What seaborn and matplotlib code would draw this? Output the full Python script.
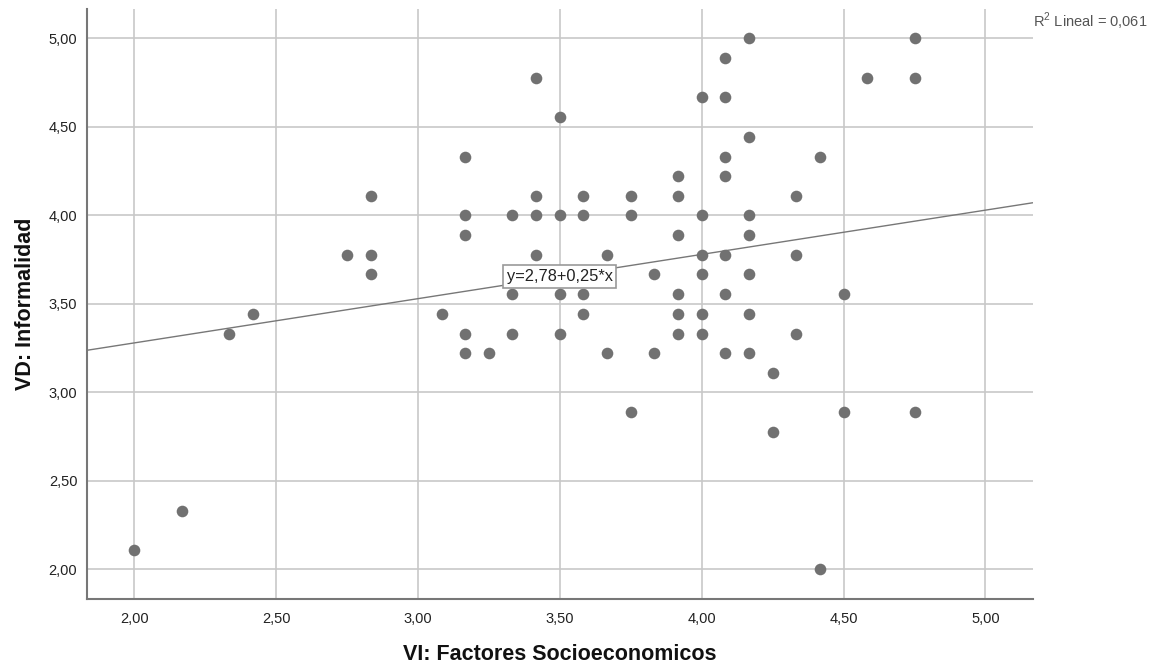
import matplotlib
matplotlib.use("Agg")
import matplotlib.pyplot as plt
from matplotlib.ticker import FuncFormatter
import seaborn as sns
import pandas as pd

# VI: Factores Socioeconomicos
x_vals = [2.000, 2.167, 2.333, 2.417, 2.750,
          2.833, 2.833, 2.833,
          3.083,
          3.167, 3.167, 3.167, 3.167, 3.167,
          3.250,
          3.333, 3.333, 3.333,
          3.417, 3.417, 3.417, 3.417,
          3.500, 3.500, 3.500, 3.500,
          3.583, 3.583, 3.583, 3.583,
          3.667, 3.667,
          3.750, 3.750, 3.750,
          3.833, 3.833,
          3.917, 3.917, 3.917, 3.917, 3.917, 3.917,
          4.000, 4.000, 4.000, 4.000, 4.000, 4.000,
          4.083, 4.083, 4.083, 4.083, 4.083, 4.083, 4.083,
          4.167, 4.167, 4.167, 4.167, 4.167, 4.167, 4.167,
          4.250, 4.250,
          4.333, 4.333, 4.333,
          4.417, 4.417,
          4.500, 4.500,
          4.583,
          4.750, 4.750, 4.750]
# VD: Informalidad
y_vals = [2.111, 2.333, 3.333, 3.444, 3.778,
          4.111, 3.778, 3.667,
          3.444,
          4.333, 4.000, 3.889, 3.333, 3.222,
          3.222,
          4.000, 3.556, 3.333,
          4.778, 4.111, 4.000, 3.778,
          4.556, 4.000, 3.556, 3.333,
          4.111, 4.000, 3.556, 3.444,
          3.778, 3.222,
          4.111, 4.000, 2.889,
          3.667, 3.222,
          4.222, 4.111, 3.889, 3.556, 3.444, 3.333,
          4.667, 4.000, 3.778, 3.667, 3.444, 3.333,
          4.889, 4.667, 4.333, 4.222, 3.778, 3.556, 3.222,
          5.000, 4.444, 4.000, 3.889, 3.667, 3.444, 3.222,
          3.111, 2.778,
          4.111, 3.778, 3.333,
          4.333, 2.000,
          3.556, 2.889,
          4.778,
          5.000, 4.778, 2.889]

intercept = 2.78
slope = 0.25
r2 = 0.061
ticks = [2.0, 2.5, 3.0, 3.5, 4.0, 4.5, 5.0]

df = pd.DataFrame({"x": x_vals, "y": y_vals})

sns.set_style("white")
plt.rcParams["font.family"] = ["Liberation Sans", "DejaVu Sans"]
plt.rcParams["mathtext.fontset"] = "custom"
plt.rcParams["mathtext.rm"] = "Liberation Sans"

fig = plt.figure(figsize=(11.52, 6.66), dpi=100)
ax = fig.add_axes([0.0755, 0.1006, 0.821, 0.886])

sns.scatterplot(data=df, x="x", y="y", ax=ax, color="#717171", s=70,
                linewidth=0, zorder=3)

ax.axline((0, intercept), slope=slope, color="#777777", lw=1.0, zorder=2)

ax.set_xlim(2 - 1/6, 5 + 1/6)
ax.set_ylim(2 - 1/6, 5 + 1/6)
ax.set_xticks(ticks)
ax.set_yticks(ticks)
fmt = FuncFormatter(lambda v, p: f"{v:.2f}".replace(".", ","))
ax.xaxis.set_major_formatter(fmt)
ax.yaxis.set_major_formatter(fmt)
ax.grid(True, color="#c8c8c8", lw=1.2, zorder=0)
ax.set_axisbelow(True)
ax.tick_params(length=0, labelsize=10.5, colors="#222222")
ax.tick_params(axis="x", pad=9)
ax.tick_params(axis="y", pad=7)

for s in ["top", "right"]:
    ax.spines[s].set_visible(False)
for s in ["left", "bottom"]:
    ax.spines[s].set_color("#777777")
    ax.spines[s].set_linewidth(1.5)

ax.set_xlabel("VI: Factores Socioeconomicos", fontsize=15.5, fontweight="bold",
              labelpad=13, color="#111111")
ax.set_ylabel("VD: Informalidad", fontsize=15.5, fontweight="bold",
              labelpad=9, color="#111111")

# equation label on the fit line
ax.text(3.5, intercept + slope * 3.5,
        "y=" + f"{intercept:.2f}".replace(".", ",") + "+" +
        f"{slope:.2f}".replace(".", ",") + "*x",
        ha="center", va="center", fontsize=11.8, color="#222222", zorder=4,
        bbox=dict(boxstyle="square,pad=0.22", fc="white", ec="#999999", lw=1.2))

fig.text(1033 / 1152, 1 - 21 / 666,
         r"R$^2$ Lineal = " + f"{r2:.3f}".replace(".", ","),
         ha="left", va="center", fontsize=10.5, color="#555555")

fig.savefig("out.png", dpi=100)
